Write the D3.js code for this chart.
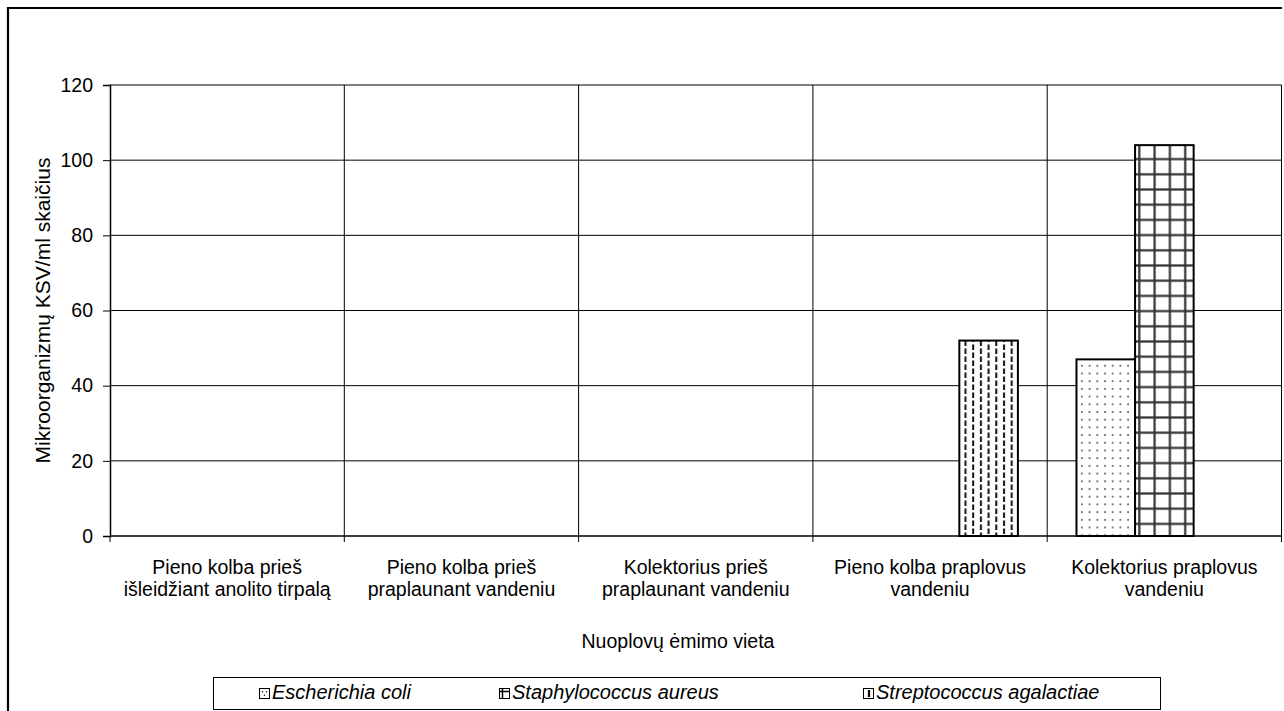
<!DOCTYPE html>
<html><head><meta charset="utf-8">
<script src="https://cdn.jsdelivr.net/npm/d3@7"></script>
<style>body{margin:0;background:#fff}svg{display:block;font-family:"Liberation Sans",Arial,sans-serif}</style>
</head><body>
<script>
const categories = [
  ["Pieno kolba prieš", "išleidžiant anolito tirpalą"],
  ["Pieno kolba prieš", "praplaunant vandeniu"],
  ["Kolektorius prieš", "praplaunant vandeniu"],
  ["Pieno kolba praplovus", "vandeniu"],
  ["Kolektorius praplovus", "vandeniu"]
];
const seriesNames = ["Escherichia coli", "Staphylococcus aureus", "Streptococcus agalactiae"];
const ecoli = [0, 0, 0, 0, 47];
const saureus = [0, 0, 0, 0, 104];
const sagalactiae = [0, 0, 0, 52, 0];
const yTicks = [0, 20, 40, 60, 80, 100, 120];
const yTitle = "Mikroorganizmų KSV/ml skaičius";
const xTitle = "Nuoplovų ėmimo vieta";

const FS = 19.5;
const seriesValues = [ecoli, saureus, sagalactiae];
const W = 1284, H = 711;
const svg = d3.select("body").append("svg").attr("width", W).attr("height", H);
const defs = svg.append("defs");

// patterns
const p0 = defs.append("pattern").attr("id","pat0").attr("patternUnits","userSpaceOnUse").attr("width",7.7).attr("height",7.7);
p0.append("rect").attr("width",7.7).attr("height",7.7).attr("fill","#fff");
p0.append("rect").attr("x",3).attr("y",3).attr("width",1.8).attr("height",1.8).attr("fill","#666");

const p1 = defs.append("pattern").attr("id","pat1").attr("patternUnits","userSpaceOnUse").attr("width",15.3).attr("height",15.2);
p1.append("rect").attr("width",15.3).attr("height",15.2).attr("fill","#fff");
p1.append("rect").attr("x",6).attr("y",0).attr("width",2.2).attr("height",15.2).attr("fill","#333");
p1.append("rect").attr("x",0).attr("y",6).attr("width",15.3).attr("height",2.2).attr("fill","#333");

const p2 = defs.append("pattern").attr("id","pat2").attr("patternUnits","userSpaceOnUse").attr("width",15.4).attr("height",8);
p2.append("rect").attr("width",15.4).attr("height",8).attr("fill","#fff");
p2.append("rect").attr("x",2).attr("y",0.5).attr("width",2).attr("height",5.5).attr("fill","#111");
p2.append("rect").attr("x",9.7).attr("y",4.5).attr("width",2).attr("height",3.5).attr("fill","#111");
p2.append("rect").attr("x",9.7).attr("y",0).attr("width",2).attr("height",2).attr("fill","#111");

// outer frame
svg.append("path").attr("d","M8,715V8H1282").attr("fill","none").attr("stroke","#000").attr("stroke-width",2.2);

const m = {l:110, t:85, r:1281.5, b:536};
const x0 = d3.scaleBand().domain(d3.range(categories.length)).range([m.l, m.r]).paddingInner(0).paddingOuter(0);
const x1 = d3.scaleBand().domain(d3.range(seriesNames.length)).range([0, x0.bandwidth()]).paddingInner(0).paddingOuter(0.5);
const y = d3.scaleLinear().domain([0,120]).range([m.b, m.t]);

const g = svg.append("g");
g.selectAll(".hg").data(yTicks.filter(d=>d>0)).join("line")
  .attr("x1",m.l).attr("x2",m.r).attr("y1",d=>y(d)).attr("y2",d=>y(d))
  .attr("stroke","#000").attr("stroke-width",1);
g.selectAll(".vg").data(d3.range(1,categories.length+1)).join("line")
  .attr("x1",d=>x0(d-1)+x0.bandwidth()).attr("x2",d=>x0(d-1)+x0.bandwidth())
  .attr("y1",m.t).attr("y2",m.b).attr("stroke","#000").attr("stroke-width",1);

// bars
const bars = [];
seriesValues.forEach((vals,si)=>vals.forEach((v,ci)=>{ if(v>0) bars.push({si,ci,v}); }));
svg.append("g").selectAll("rect").data(bars).join("rect")
  .attr("x",d=>x0(d.ci)+x1(d.si)).attr("width",x1.bandwidth())
  .attr("y",d=>y(d.v)).attr("height",d=>y(0)-y(d.v))
  .attr("fill",d=>`url(#pat${d.si})`).attr("stroke","#000").attr("stroke-width",2);

// y axis
const yAxis = d3.axisLeft(y).tickValues(yTicks).tickSize(7).tickPadding(10);
const ya = svg.append("g").attr("transform",`translate(${m.l},0)`).call(yAxis);
ya.attr("font-size",FS).attr("font-family",null);
ya.select(".domain").attr("stroke","#000").attr("stroke-width",1.5);
ya.selectAll("line").attr("stroke","#000");
ya.selectAll("text").attr("fill","#000");

// x axis
const xb = svg.append("g").attr("transform",`translate(0,${m.b})`);
xb.append("line").attr("x1",m.l).attr("x2",m.r).attr("stroke","#000").attr("stroke-width",1.5);
xb.selectAll(".xt").data(d3.range(categories.length+1)).join("line")
  .attr("x1",d=>m.l+d*x0.bandwidth()).attr("x2",d=>m.l+d*x0.bandwidth())
  .attr("y1",0).attr("y2",6).attr("stroke","#000");
const lab = svg.append("g").selectAll("text").data(categories).join("text")
  .attr("text-anchor","middle").attr("font-size",FS).attr("fill","#000")
  .attr("transform",(d,i)=>`translate(${x0(i)+x0.bandwidth()/2},${m.b+38})`);
lab.selectAll("tspan").data(d=>d).join("tspan").attr("x",0).attr("dy",(d,i)=>i===0?0:21.5).text(d=>d);

// titles
svg.append("text").attr("x",678).attr("y",648).attr("text-anchor","middle").attr("font-size",FS).text(xTitle);
svg.append("text").attr("transform",`translate(50,${(m.t+m.b)/2}) rotate(-90)`).attr("text-anchor","middle").attr("font-size",21).text(yTitle);

// legend
svg.append("rect").attr("x",213.5).attr("y",677.5).attr("width",947).attr("height",32).attr("fill","#fff").attr("stroke","#000").attr("stroke-width",1);
const legX = [259, 499, 863];
const lg = svg.append("g").selectAll("g").data(seriesNames).join("g").attr("transform",(d,i)=>`translate(${legX[i]},688)`);
lg.append("rect").attr("x",0.5).attr("y",0.5).attr("width",10).attr("height",10).attr("fill","#fff").attr("stroke","#000").attr("stroke-width",1);
lg.filter((d,i)=>i===0).append("path").attr("d","M3.5,3V4.5M7.5,3V4.5M5.5,6.5V8").attr("stroke","#333").attr("stroke-width",1.2);
lg.filter((d,i)=>i===1).append("path").attr("d","M1,3.5H10M3.5,1V10").attr("stroke","#000").attr("stroke-width",1.5);
lg.filter((d,i)=>i===2).append("path").attr("d","M6,2V9").attr("stroke","#000").attr("stroke-width",2.2);
lg.append("text").attr("x",13).attr("y",11).attr("font-size",20).attr("font-style","italic").text(d=>d);
</script>
</body></html>
